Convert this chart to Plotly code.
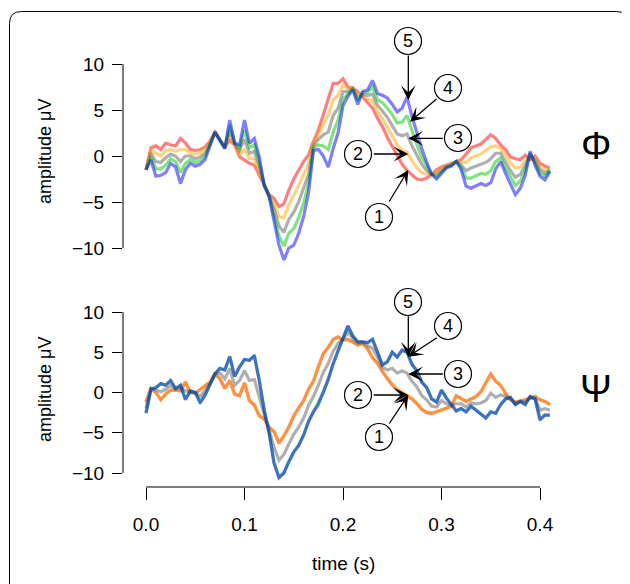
import plotly.graph_objects as go

# ---------------- data ----------------
time_s = [0.000, 0.005, 0.010, 0.015, 0.020, 0.025, 0.030, 0.035, 0.040, 0.045,
          0.050, 0.055, 0.060, 0.065, 0.070, 0.075, 0.080, 0.085, 0.090, 0.095,
          0.100, 0.105, 0.110, 0.115, 0.120, 0.125, 0.130, 0.135, 0.140, 0.145,
          0.150, 0.155, 0.160, 0.165, 0.170, 0.175, 0.180, 0.185, 0.190, 0.195,
          0.200, 0.205, 0.210, 0.215, 0.220, 0.225, 0.230, 0.235, 0.240, 0.245,
          0.250, 0.255, 0.260, 0.265, 0.270, 0.275, 0.280, 0.285, 0.290, 0.295,
          0.300, 0.305, 0.310, 0.315, 0.320, 0.325, 0.330, 0.335, 0.340, 0.345,
          0.350, 0.355, 0.360, 0.365, 0.370, 0.375, 0.380, 0.385, 0.390, 0.395,
          0.400, 0.405, 0.410]

# Top panel (Phi), series 1..5
phi_1 = [-1.5, 0.9, 1.1, 0.7, 1.4, 1.2, 1.1, 1.9, 1.4, 0.7,
         0.6, 0.7, 1.0, 1.6, 2.6, 1.8, 1.0, 1.7, 1.2, -0.1,
         -0.4, -0.8, -1.0, -2.1, -3.0, -4.2, -4.6, -5.5, -5.2, -3.7,
         -2.5, -1.5, -0.6, 0.1, 1.6, 2.8, 4.5, 6.3, 7.9, 7.9,
         8.4, 7.5, 7.4, 7.0, 6.4, 5.9, 5.2, 4.1, 3.2, 2.0,
         1.0, 0.0, -0.9, -1.6, -2.1, -2.5, -2.6, -2.4, -2.0, -1.5,
         -1.2, -1.0, -0.8, -0.6, -0.4, 0.2, 0.9, 1.1, 1.3, 1.8,
         2.3, 1.9, 1.2, 0.7, -0.1, -0.3, -0.4, 0.1, -0.4, 0.0,
         -0.8, -1.1, -1.3]
phi_2 = [-1.5, 0.6, 0.3, 0.0, 0.6, 0.7, 0.5, 0.7, 0.7, 0.3,
         0.2, 0.3, 0.7, 1.5, 2.6, 1.8, 1.0, 2.3, 1.3, 0.2,
         0.7, -0.3, -0.3, -1.6, -3.1, -4.3, -5.2, -6.6, -6.7, -5.3,
         -4.3, -3.2, -2.1, -0.9, 1.4, 2.3, 3.4, 4.4, 6.1, 6.6,
         7.7, 7.3, 7.4, 6.7, 6.6, 6.2, 6.0, 4.8, 4.1, 3.1,
         2.2, 1.2, 0.6, 0.4, -0.5, -1.3, -1.8, -2.0, -2.0, -1.8,
         -1.4, -1.1, -0.9, -0.6, -0.7, -0.7, -0.2, 0.0, 0.2, 0.6,
         1.0, 1.1, 0.8, 0.1, -0.8, -1.3, -1.2, -0.5, -0.2, -0.3,
         -1.2, -1.5, -1.4]
phi_3 = [-1.5, 0.3, -0.6, -0.7, -0.2, 0.2, 0.0, -0.6, 0.0, 0.0,
         -0.3, -0.1, 0.3, 1.3, 2.6, 1.8, 0.9, 2.8, 1.3, 0.6,
         1.8, 0.3, 0.5, -1.1, -3.1, -4.3, -5.8, -7.6, -8.3, -6.9,
         -6.1, -5.0, -3.6, -2.0, 1.1, 1.8, 2.3, 2.6, 4.4, 5.2,
         7.0, 7.0, 7.3, 6.3, 6.7, 6.6, 6.7, 5.5, 4.9, 4.2,
         3.3, 2.4, 2.2, 2.4, 1.1, 0.0, -0.9, -1.6, -2.0, -2.0,
         -1.6, -1.2, -1.0, -0.6, -1.0, -1.6, -1.3, -1.1, -0.9, -0.7,
         -0.3, 0.3, 0.3, -0.6, -1.6, -2.3, -2.0, -1.0, 0.1, -0.5,
         -1.5, -1.9, -1.5]
phi_4 = [-1.5, -0.1, -1.4, -1.4, -1.0, -0.3, -0.6, -1.8, -0.8, -0.4,
         -0.7, -0.5, 0.0, 1.2, 2.6, 1.7, 0.9, 3.4, 1.4, 0.9,
         2.8, 0.9, 1.2, -0.6, -3.2, -4.4, -6.4, -8.7, -9.8, -8.4,
         -7.9, -6.7, -5.1, -3.0, 0.9, 1.2, 1.1, 0.7, 2.6, 3.9,
         6.2, 6.8, 7.3, 6.0, 6.9, 6.9, 7.5, 6.1, 5.8, 5.2,
         4.5, 3.6, 3.7, 4.4, 2.7, 1.2, -0.1, -1.1, -2.0, -2.3,
         -1.7, -1.2, -1.0, -0.6, -1.2, -2.4, -2.4, -2.1, -1.9, -2.0,
         -1.6, -0.6, -0.2, -1.3, -2.3, -3.2, -2.7, -1.6, 0.3, -0.8,
         -1.9, -2.2, -1.6]
phi_5 = [-1.5, -0.4, -2.2, -2.1, -1.8, -0.8, -1.2, -3.0, -1.5, -0.8,
         -1.1, -0.9, -0.4, 1.0, 2.6, 1.7, 0.8, 3.9, 1.4, 1.2,
         3.9, 1.4, 1.9, -0.1, -3.2, -4.4, -7.0, -9.7, -11.3, -10.0,
         -9.7, -8.4, -6.6, -4.0, 0.6, 0.7, 0.0, -1.2, 0.8, 2.5,
         5.5, 6.5, 7.2, 5.6, 7.0, 7.2, 8.2, 6.8, 6.6, 6.3,
         5.6, 4.8, 5.2, 6.4, 4.3, 2.4, 0.8, -0.7, -2.0, -2.5,
         -1.9, -1.3, -1.1, -0.6, -1.5, -3.3, -3.5, -3.2, -3.0, -3.2,
         -2.9, -1.4, -0.6, -1.9, -3.0, -4.2, -3.5, -2.1, 0.5, -1.0,
         -2.2, -2.6, -1.7]

# Bottom panel (Psi), series 1..5
psi_1 = [-1.2, 0.5, 0.0, -0.9, -0.2, 0.3, 0.3, 0.2, 1.3, 0.0,
         -0.1, 0.4, 0.9, 1.3, 2.3, 1.7, 0.5, 1.5, -0.2, -0.4,
         1.2, -1.0, -1.6, -2.9, -3.3, -4.3, -4.9, -6.3, -5.4, -4.3,
         -2.9, -2.0, -1.0, 0.4, 1.4, 3.2, 4.8, 5.6, 6.6, 6.9,
         6.5, 6.6, 6.2, 5.9, 6.1, 5.4, 4.3, 3.6, 2.6, 1.7,
         0.9, 0.3, -0.1, -0.4, -0.8, -1.4, -2.1, -2.5, -2.6, -2.4,
         -2.2, -2.0, -1.7, -0.4, -0.8, -1.1, -0.8, -0.5, 0.1, 1.2,
         2.3, 1.4, 0.9, -0.1, -0.9, -1.2, -1.1, -0.9, -0.7, -0.5,
         -0.9, -1.1, -1.5]
psi_2 = [-1.1, 0.5, 0.0, -0.9, -0.1, 0.3, 0.3, 0.3, 1.3, 0.0,
         -0.1, 0.4, 0.9, 1.3, 2.3, 1.8, 0.5, 1.5, -0.2, -0.3,
         1.2, -1.0, -1.5, -2.9, -3.2, -4.3, -4.8, -6.2, -5.4, -4.2,
         -2.9, -1.9, -1.0, 0.4, 1.5, 3.2, 4.9, 5.6, 6.6, 6.9,
         6.5, 6.6, 6.3, 5.9, 6.1, 5.4, 4.3, 3.7, 2.7, 1.7,
         1.0, 0.4, 0.0, -0.3, -0.7, -1.3, -2.1, -2.4, -2.6, -2.4,
         -2.2, -2.0, -1.6, -0.4, -0.8, -1.1, -0.8, -0.5, 0.1, 1.2,
         2.3, 1.4, 0.9, -0.1, -0.9, -1.2, -1.1, -0.9, -0.7, -0.5,
         -0.9, -1.1, -1.5]
psi_3 = [-1.9, 0.5, 0.3, 0.1, 0.4, 0.9, 0.4, 0.6, 0.2, 0.1,
         0.0, -0.5, 0.3, 1.1, 2.3, 2.4, 1.7, 3.0, 0.9, 1.5,
         2.7, 1.5, 1.6, -0.7, -2.7, -4.7, -6.8, -8.4, -7.7, -6.4,
         -5.2, -4.3, -3.2, -1.6, -0.5, 0.9, 2.5, 3.6, 5.1, 6.1,
         6.6, 7.5, 6.7, 6.1, 6.2, 5.8, 5.5, 4.4, 3.1, 2.8,
         3.0, 2.4, 2.7, 2.4, 1.4, 0.7, -0.4, -0.9, -1.7, -1.8,
         -1.0, -1.4, -1.6, -1.4, -1.4, -1.8, -1.3, -1.4, -1.3, -1.0,
         -0.1, -0.6, -0.3, -0.5, -0.8, -1.4, -1.1, -1.2, -0.6, -0.7,
         -2.2, -2.0, -2.2]
psi_4 = [-2.5, 0.4, 0.6, 1.1, 0.9, 1.5, 0.5, 0.9, -0.8, 0.2,
         0.0, -1.2, -0.3, 0.9, 2.3, 3.0, 2.8, 4.4, 2.0, 3.2,
         4.1, 4.0, 4.5, 1.5, -2.1, -5.0, -8.7, -10.5, -10.0, -8.6,
         -7.4, -6.5, -5.3, -3.6, -2.4, -1.4, 0.0, 1.7, 3.6, 5.2,
         6.7, 8.2, 7.0, 6.3, 6.3, 6.2, 6.6, 5.0, 3.5, 3.8,
         5.0, 4.4, 5.2, 5.0, 3.5, 2.7, 1.3, 0.6, -0.8, -1.2,
         0.3, -0.7, -1.5, -2.3, -2.0, -2.4, -1.7, -2.2, -2.7, -3.1,
         -2.4, -2.6, -1.5, -0.8, -0.6, -1.5, -1.1, -1.5, -0.5, -0.8,
         -3.3, -2.8, -2.8]
psi_5 = [-2.6, 0.4, 0.6, 1.1, 0.9, 1.5, 0.5, 0.9, -0.9, 0.2,
         0.0, -1.3, -0.3, 0.9, 2.3, 3.0, 2.8, 4.5, 2.0, 3.2,
         4.1, 4.0, 4.6, 1.5, -2.2, -5.1, -8.8, -10.6, -10.0, -8.6,
         -7.4, -6.6, -5.3, -3.6, -2.4, -1.5, 0.0, 1.6, 3.6, 5.2,
         6.7, 8.3, 7.0, 6.3, 6.3, 6.2, 6.6, 5.0, 3.4, 3.8,
         5.0, 4.4, 5.3, 5.0, 3.5, 2.7, 1.3, 0.6, -0.8, -1.2,
         0.3, -0.7, -1.5, -2.3, -2.0, -2.4, -1.7, -2.2, -2.7, -3.2,
         -2.4, -2.6, -1.5, -0.8, -0.6, -1.5, -1.1, -1.5, -0.5, -0.8,
         -3.4, -2.8, -2.8]

series_labels = ["1", "2", "3", "4", "5"]
y_ticks = [-10, -5, 0, 5, 10]
x_ticks = [0.0, 0.1, 0.2, 0.3, 0.4]
x_tick_text = ["0.0", "0.1", "0.2", "0.3", "0.4"]

# ---------------- styling ----------------
# The page body has an 8px margin, so the figure is 8px smaller than the
# window and all page-pixel positions are converted accordingly.
OFF = 8
W, H = 630 - OFF, 584 - OFF
ML, MR, MT, MB = 115, 22, 12, 12
PW, PH = W - ML - MR, H - MT - MB
PLOT_L, PLOT_B = OFF + ML, OFF + MT + PH   # page pixels of plot-area left / bottom
FONT = "Liberation Sans, Arial, Helvetica, sans-serif"
colors = ["rgba(255,0,0,0.5)", "rgba(255,165,0,0.5)", "rgba(110,110,110,0.55)",
          "rgba(0,200,0,0.5)", "rgba(0,0,255,0.5)"]


def px(x):
    return (x - PLOT_L) / PW


def py(y):
    return (PLOT_B - y) / PH


X_RANGE = [(PLOT_L - 146) / 985.0, (PLOT_L + PW - 146) / 985.0]
TOP_DOM = [py(265), py(50)]
TOP_RANGE = [(156 - 265) / 9.2, (156 - 50) / 9.2]
BOT_DOM = [py(487), py(300)]
BOT_RANGE = [(392.5 - 487) / 8.05, (392.5 - 300) / 8.05]

fig = go.Figure()
for vals, c in zip([phi_1, phi_2, phi_3, phi_4, phi_5], colors):
    fig.add_trace(go.Scatter(x=time_s, y=vals, mode="lines", xaxis="x", yaxis="y",
                             line=dict(color=c, width=3.2), showlegend=False))
for vals, c in zip([psi_1, psi_2, psi_3, psi_4, psi_5], colors):
    fig.add_trace(go.Scatter(x=time_s, y=vals, mode="lines", xaxis="x2", yaxis="y2",
                             line=dict(color=c, width=3.2), showlegend=False))

tickfont = dict(family=FONT, size=19, color="black")
yax = dict(tickmode="array", tickvals=y_ticks, ticks="outside", ticklen=10,
           tickwidth=1, tickcolor="black", showline=False, showgrid=False,
           zeroline=False, tickfont=tickfont, ticklabelstandoff=4)

fig.update_layout(
    width=W, height=H, margin=dict(l=ML, r=MR, t=MT, b=MB),
    paper_bgcolor="white", plot_bgcolor="white",
    xaxis=dict(domain=[0, 1], range=X_RANGE, anchor="y", visible=False),
    yaxis=dict(domain=TOP_DOM, range=TOP_RANGE, anchor="x", **yax),
    xaxis2=dict(domain=[0, 1], range=X_RANGE, anchor="y2", tickmode="array",
                tickvals=x_ticks, ticktext=x_tick_text, ticks="outside",
                ticklen=12, tickwidth=1, tickcolor="black", showline=False,
                showgrid=False, zeroline=False, tickfont=tickfont,
                ticklabelstandoff=8),
    yaxis2=dict(domain=BOT_DOM, range=BOT_RANGE, anchor="x2", **yax),
)

shapes = []
# axis lines (R style, spanning the ticks only)
shapes.append(dict(type="line", xref="paper", yref="y", x0=0, x1=0, y0=-10, y1=10,
                   line=dict(color="black", width=1)))
shapes.append(dict(type="line", xref="paper", yref="y2", x0=0, x1=0, y0=-10, y1=10,
                   line=dict(color="black", width=1)))
shapes.append(dict(type="line", xref="x2", yref="y2 domain", x0=0, x1=0.4, y0=0, y1=0,
                   line=dict(color="black", width=1)))

# rounded outer frame
x0f, x1f, ytf, ybf, r = px(9.5), px(628.5), py(11.5), py(600), 12
rx, ry = r / PW, r / PH
frame = (f"M {x0f},{ybf} L {x0f},{ytf - ry} Q {x0f},{ytf} {x0f + rx},{ytf} "
         f"L {x1f - rx},{ytf} Q {x1f},{ytf} {x1f},{ytf - ry} L {x1f},{ybf}")
shapes.append(dict(type="path", xref="paper", yref="paper", path=frame,
                   line=dict(color="black", width=1)))

# numbered circles
top_circles = {"5": (408, 41), "4": (448, 88), "3": (458, 138), "2": (358, 154), "1": (379, 217)}
bot_circles = {"5": (408, 302), "4": (448, 326), "3": (458, 374), "2": (358, 395), "1": (379, 437)}
R = 13.5
annotations = []
for circ in (top_circles, bot_circles):
    for lab, (cx, cy) in circ.items():
        shapes.append(dict(type="circle", xref="paper", yref="paper",
                           x0=px(cx - R), x1=px(cx + R), y0=py(cy + R), y1=py(cy - R),
                           line=dict(color="black", width=1.2), fillcolor="white"))
        annotations.append(dict(xref="paper", yref="paper", x=px(cx), y=py(cy),
                                text=lab, showarrow=False, xanchor="center",
                                yanchor="middle",
                                font=dict(family=FONT, size=18, color="black")))

# arrows: (axis, tip t, tip v, tail dx, tail dy)
arrows = [("", 0.2663, 6.09, 0, -46), ("", 0.2680, 3.73, 28, -24),
          ("", 0.2663, 1.92, 36, 0), ("", 0.2663, 0.22, -36, 0),
          ("", 0.2663, -1.52, -20, 33),
          ("2", 0.2663, 4.45, 0, -42), ("2", 0.2663, 4.45, 30, -20),
          ("2", 0.2663, 2.30, 36, 0), ("2", 0.2663, -0.31, -36, 0),
          ("2", 0.2663, -0.31, -20, 30)]
for ax_id, tx, ty, dx, dy in arrows:
    annotations.append(dict(xref="x" + ax_id, yref="y" + ax_id, x=tx, y=ty, ax=dx, ay=dy,
                            text="", showarrow=True, arrowhead=3, arrowsize=1.9,
                            arrowwidth=1.3, arrowcolor="black"))

# axis titles and panel symbols
annotations.append(dict(xref="paper", yref="paper", x=px(45), y=py(152), text="amplitude μV",
                        textangle=-90, showarrow=False, xanchor="center", yanchor="middle",
                        font=dict(family=FONT, size=18, color="black")))
annotations.append(dict(xref="paper", yref="paper", x=px(45), y=py(390), text="amplitude μV",
                        textangle=-90, showarrow=False, xanchor="center", yanchor="middle",
                        font=dict(family=FONT, size=18, color="black")))
annotations.append(dict(xref="paper", yref="paper", x=px(343), y=py(563), text="time (s)",
                        showarrow=False, xanchor="center", yanchor="middle",
                        font=dict(family=FONT, size=19, color="black")))
annotations.append(dict(xref="paper", yref="paper", x=px(596), y=py(146), text="Φ",
                        showarrow=False, xanchor="center", yanchor="middle",
                        font=dict(family=FONT, size=38, color="black")))
annotations.append(dict(xref="paper", yref="paper", x=px(596), y=py(389), text="Ψ",
                        showarrow=False, xanchor="center", yanchor="middle",
                        font=dict(family=FONT, size=38, color="black")))

fig.update_layout(shapes=shapes, annotations=annotations)
fig.write_html("out.html")
